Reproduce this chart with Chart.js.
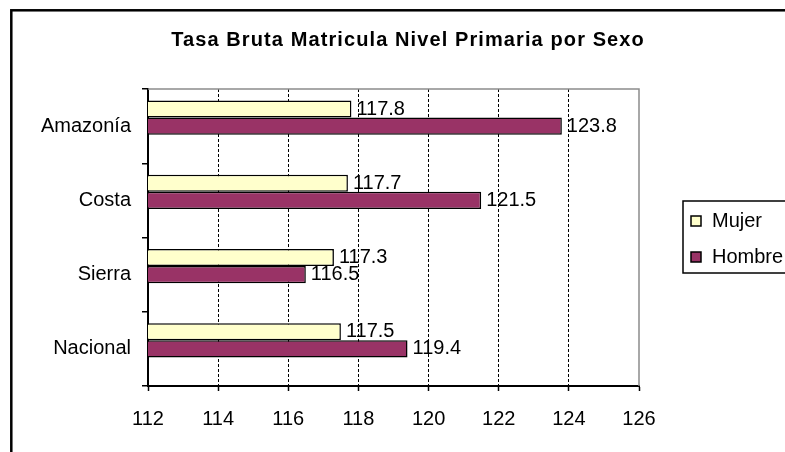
<!DOCTYPE html>
<html>
<head>
<meta charset="utf-8">
<title>Tasa Bruta Matricula Nivel Primaria por Sexo</title>
<script src="https://cdn.jsdelivr.net/npm/chart.js@4.4.0/dist/chart.umd.min.js"></script>
<style>
    html, body { margin: 0; padding: 0; background: #fff; }
    canvas { display: block; }
</style>
</head>
<body>
<canvas id="chart" width="785" height="452"></canvas>
<script>
var chartTitle = 'Tasa Bruta Matricula Nivel Primaria por Sexo';
var regions = ['Amazonía', 'Costa', 'Sierra', 'Nacional'];
var mujer = [117.8, 117.7, 117.3, 117.5];
var hombre = [123.8, 121.5, 116.5, 119.4];
var seriesNames = ['Mujer', 'Hombre'];
var axisMin = 112;
var axisMax = 126;
var axisStep = 2;

var FONT = "'Liberation Sans', Arial, sans-serif";
var barColors = ['#FFFFCC', '#993366'];

Chart.defaults.font.family = FONT;
Chart.defaults.font.size = 20;
Chart.defaults.color = '#000';

// excel-like frame, title, legend box and value labels
var excelLook = {
    id: 'excelLook',
    beforeDraw: function (chart) {
        var ctx = chart.ctx;
        ctx.save();
        ctx.fillStyle = '#fff';
        ctx.fillRect(0, 0, chart.width, chart.height);

        // outer chart border (right/bottom fall outside the picture)
        ctx.strokeStyle = '#000';
        ctx.lineWidth = 2.5;
        ctx.strokeRect(11.3, 10.3, 900, 900);

        ctx.fillStyle = '#000';
        ctx.font = 'bold 20px ' + FONT;
        ctx.letterSpacing = '1.1px';
        ctx.textAlign = 'center';
        ctx.textBaseline = 'middle';
        ctx.fillText(chartTitle, 408, 40);
        ctx.restore();
    },
    beforeDatasetsDraw: function (chart) {
        var ctx = chart.ctx;
        var area = chart.chartArea;
        ctx.save();
        ctx.strokeStyle = '#8c8c8c';
        ctx.lineWidth = 1.5;
        ctx.beginPath();
        ctx.moveTo(area.left, area.top);
        ctx.lineTo(area.right, area.top);
        ctx.lineTo(area.right, area.bottom);
        ctx.stroke();
        ctx.restore();
    },
    afterDatasetsDraw: function (chart) {
        var ctx = chart.ctx;
        ctx.save();
        ctx.fillStyle = '#000';
        ctx.font = '20px ' + FONT;
        ctx.textAlign = 'left';
        ctx.textBaseline = 'middle';
        chart.data.datasets.forEach(function (ds, i) {
            var meta = chart.getDatasetMeta(i);
            meta.data.forEach(function (bar, j) {
                var v = ds.data[j];
                if (v === null || v === undefined) {
                    return;
                }
                ctx.fillText(v.toFixed(1), bar.x + 5, bar.y);
            });
        });

        // legend box
        var items = chart.data.datasets.filter(function (ds) { return ds.label !== ''; });
        var boxX = 683, boxY = 201, rowH = 36;
        ctx.strokeStyle = '#000';
        ctx.lineWidth = 1.5;
        ctx.strokeRect(boxX, boxY, 200, 72);
        items.forEach(function (ds, k) {
            var cy = boxY + 20 + k * rowH;
            ctx.fillStyle = ds.backgroundColor;
            ctx.fillRect(691, cy - 5, 10, 10);
            ctx.strokeRect(691, cy - 5, 10, 10);
            ctx.fillStyle = '#000';
            ctx.fillText(ds.label, 712, cy);
        });
        ctx.restore();
    }
};

var chart = new Chart(document.getElementById('chart'), {
    type: 'bar',
    data: {
        labels: regions,
        datasets: [{
            label: seriesNames[0],
            data: mujer,
            backgroundColor: barColors[0],
            borderColor: '#000',
            borderWidth: 1.5
        }, {
            label: seriesNames[1],
            data: hombre,
            backgroundColor: barColors[1],
            borderColor: '#000',
            borderWidth: 1.5
        }, {
            // empty slot: excel leaves the pair above the band centre
            label: '',
            data: regions.map(function () { return null; })
        }]
    },
    options: {
        indexAxis: 'y',
        responsive: false,
        animation: false,
        categoryPercentage: 0.687,
        barPercentage: 1,
        layout: {
            padding: { top: 89, left: 0, right: 146, bottom: 26 }
        },
        plugins: {
            legend: { display: false },
            title: { display: false },
            tooltip: { enabled: false }
        },
        scales: {
            x: {
                min: axisMin,
                max: axisMax,
                ticks: { stepSize: axisStep, padding: 16 },
                grid: {
                    color: function (c) {
                        var v = c.tick && c.tick.value;
                        return (v === axisMin || v === axisMax) ? 'rgba(0,0,0,0)' : '#000';
                    },
                    lineWidth: 1,
                    tickColor: '#000',
                    tickWidth: 1.5,
                    tickLength: 5,
                    tickBorderDash: []
                },
                border: { color: '#000', width: 2, dash: [3, 2] },
                afterFit: function (scale) { scale.height = 40; }
            },
            y: {
                ticks: { padding: 11 },
                grid: {
                    drawOnChartArea: false,
                    color: '#000',
                    tickLength: 6,
                    lineWidth: 1.5
                },
                border: { color: '#000', width: 2 },
                afterFit: function (scale) { scale.width = 148; }
            }
        }
    },
    plugins: [excelLook]
});
</script>
</body>
</html>
